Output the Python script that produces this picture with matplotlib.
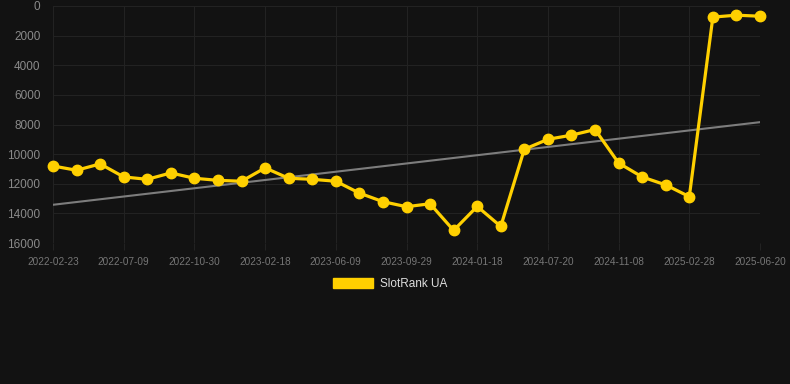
import matplotlib
matplotlib.use("Agg")
import matplotlib.pyplot as plt
from matplotlib.patches import Patch
import numpy as np

tick_labels = ["2022-02-23", "2022-07-09", "2022-10-30", "2023-02-18", "2023-06-09",
               "2023-09-29", "2024-01-18", "2024-07-20", "2024-11-08", "2025-02-28",
               "2025-06-20"]
rank_values = [10800, 11090, 10660, 11540, 11700, 11270, 11630, 11770, 11830, 10930,
               11630, 11700, 11830, 12630, 13210, 13550, 13350, 15150, 13530, 14880,
               9670, 9000, 8720, 8340, 10600, 11540, 12080, 12870, 750, 620, 690]
series_name = "SlotRank UA"

BG = "#121212"
GRID = "#222222"
YELLOW = "#FFD000"

plt.rcParams['font.family'] = ['Liberation Sans', 'DejaVu Sans']

fig = plt.figure(figsize=(7.9, 3.84), dpi=100, facecolor=BG)
ax = fig.add_axes([53/790, 1 - 243/384, (760-53)/790, (243-6)/384])
ax.set_facecolor(BG)

x = np.arange(len(rank_values))
y = np.array(rank_values, dtype=float)

# trend line (linear regression)
coef = np.polyfit(x, y, 1)
ax.plot(x, np.polyval(coef, x), color="#7d7d7d", lw=1.5, zorder=2)

ax.plot(x, y, color=YELLOW, lw=2.3, marker="o", markersize=7.5,
        markerfacecolor=YELLOW, markeredgecolor=YELLOW, zorder=3, clip_on=False)

ax.set_xlim(0, len(rank_values) - 1)
ax.set_ylim(16000, 0)
ax.set_yticks(np.arange(0, 16001, 2000))
tick_pos = np.arange(0, len(rank_values), 3)
ax.set_xticks(tick_pos)
ax.set_xticklabels(tick_labels)

ax.grid(True, color=GRID, lw=0.8)
ax.set_axisbelow(True)
for s in ax.spines.values():
    s.set_visible(False)

ax.tick_params(axis="y", length=0, pad=9, labelsize=8.5, labelcolor="#8a8a8a")
ax.tick_params(axis="x", length=5, color=GRID, pad=5, labelsize=7.2, labelcolor="#767676")

handle = Patch(facecolor=YELLOW, edgecolor=YELLOW, label=series_name)
leg = fig.legend(handles=[handle], loc="center", bbox_to_anchor=(390/790, 1 - 284/384),
                 frameon=False, fontsize=8.5, handlelength=3.4, handleheight=0.85,
                 handletextpad=0.6)
for t in leg.get_texts():
    t.set_color("#dddddd")

fig.savefig("out.png", dpi=100, facecolor=BG)
